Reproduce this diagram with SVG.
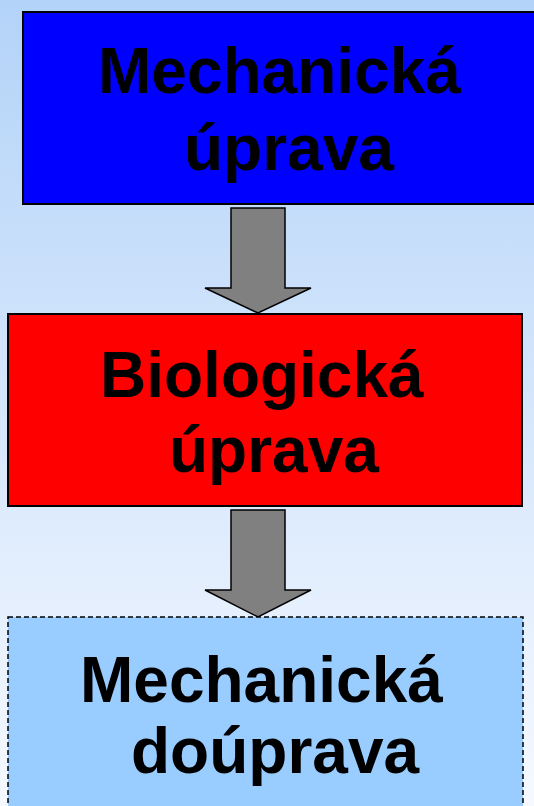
<svg xmlns="http://www.w3.org/2000/svg" width="534" height="806" viewBox="0 0 534 806">
<defs>
<linearGradient id="bg" x1="0" y1="0" x2="0" y2="1">
<stop offset="0" stop-color="#b3d3f8"/>
<stop offset="1" stop-color="#f6f9ff"/>
</linearGradient>
<style>
.lbl{font-family:"Liberation Sans",Arial,sans-serif;font-weight:bold;font-size:64px;fill:#000}
.box{stroke:#000;stroke-width:2}
.arr{fill:#808080;stroke:#000;stroke-width:1.5;stroke-linejoin:miter}
</style>
</defs>
<rect x="0" y="0" width="534" height="806" fill="url(#bg)"/>
<g id="connectors">
<polygon class="arr" points="231,208 285,208 285,288 311,288 258,313 205,288 231,288"/>
<polygon class="arr" points="231,510 285,510 285,590 311,590 258,617 205,590 231,590"/>
</g>
<g id="node-mechanicka-uprava">
<rect class="box" x="23" y="12" width="530" height="192" fill="#0000ff"/>
<text class="lbl" x="98" y="93">Mechanická</text>
<text class="lbl" x="184" y="170">úprava</text>
</g>
<g id="node-biologicka-uprava">
<rect class="box" x="8" y="314" width="514" height="192" fill="#ff0000"/>
<text class="lbl" x="100" y="397">Biologická</text>
<text class="lbl" x="169" y="472">úprava</text>
</g>
<g id="node-mechanicka-douprava">
<rect x="8" y="617" width="515" height="210" fill="#99ccff" stroke="#000" stroke-width="1.5" stroke-dasharray="5,3"/>
<text class="lbl" x="80" y="702">Mechanická</text>
<text class="lbl" x="131" y="773">doúprava</text>
</g>
</svg>
